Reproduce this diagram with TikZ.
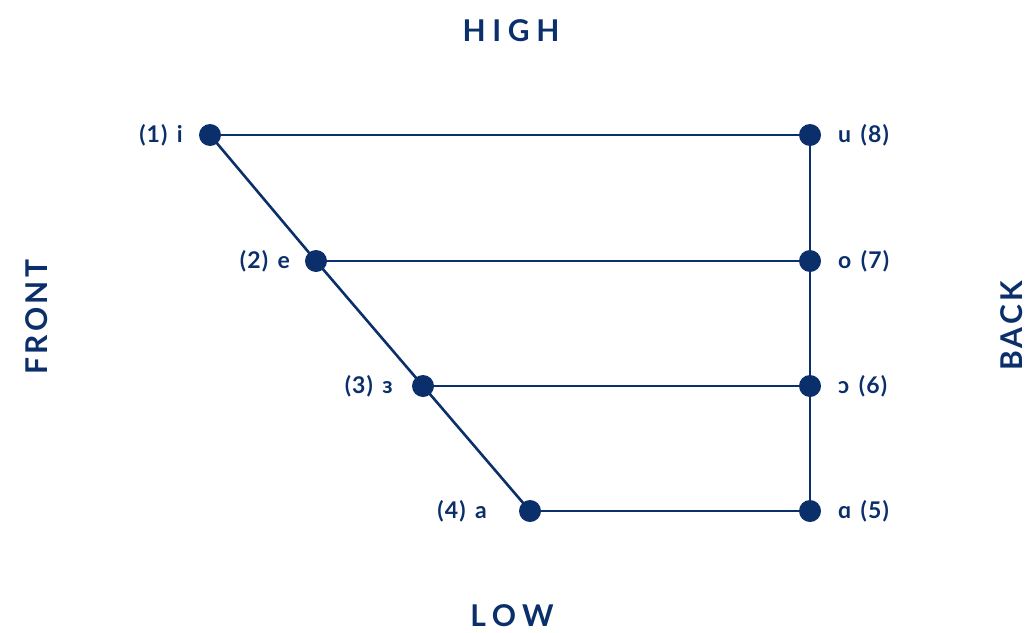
\documentclass[tikz,border=0pt]{standalone}
\usepackage{fontspec}
\setmainfont{Lato}[UprightFont=* Bold, LetterSpace=5, WordSpace=1.4]
\newfontfamily\headfont{Lato}[UprightFont=* Bold, LetterSpace=22]
\newfontfamily\sidefont{Lato}[UprightFont=* Bold, LetterSpace=11]
\definecolor{navy}{HTML}{0A2F6A}
\begin{document}
\begin{tikzpicture}[x=1pt,y=-1pt,
  dot/.style={circle,fill=navy,inner sep=0pt,minimum size=22pt},
  conn/.style={draw=navy,line width=2.6pt},
  lab/.style={text=navy,font=\fontsize{23}{27}\selectfont,inner sep=0pt},
  head/.style={text=navy,font=\fontsize{30}{34}\selectfont\headfont,inner sep=0pt},
  side/.style={text=navy,font=\fontsize{30}{34}\selectfont\sidefont,inner sep=0pt,rotate=90}]
\useasboundingbox (0,0) rectangle (1031,632);
% left nodes
\node[dot] (i) at (210,135) {};
\node[dot] (e) at (316,261) {};
\node[dot] (E) at (423,386) {};
\node[dot] (a) at (530,511) {};
% right nodes
\node[dot] (u) at (810,135) {};
\node[dot] (o) at (810,261) {};
\node[dot] (O) at (810,386) {};
\node[dot] (A) at (810,511) {};
% connectors
\draw[conn] (i.center) -- (u.center);
\draw[conn] (e.center) -- (o.center);
\draw[conn] (E.center) -- (O.center);
\draw[conn] (a.center) -- (A.center);
\draw[conn] (i.center) -- (e.center) -- (E.center) -- (a.center);
\draw[conn] (u.center) -- (o.center) -- (O.center) -- (A.center);
% labels
\node[lab,anchor=east] (li) at (183,135) {(1) i};
\node[lab,anchor=east] (le) at (290,261) {(2) e};
\node[lab,anchor=east] (lE) at (393,386) {(3) ɜ};
\node[lab,anchor=east] (la) at (487,511) {(4) a};
\node[lab,anchor=west] (lu) at (838,135) {u (8)};
\node[lab,anchor=west] (lo) at (838,261) {o (7)};
\node[lab,anchor=west] (lO) at (838,386) {ɔ (6)};
\node[lab,anchor=west] (lA) at (838,511) {ɑ (5)};
% headings
\node[head] (high) at (511,31) {HIGH};
\node[head] (low) at (512,616) {LOW};
\node[side] (front) at (37,317) {FRONT};
\node[side] (back) at (1012,326) {BACK};
\end{tikzpicture}
\end{document}
